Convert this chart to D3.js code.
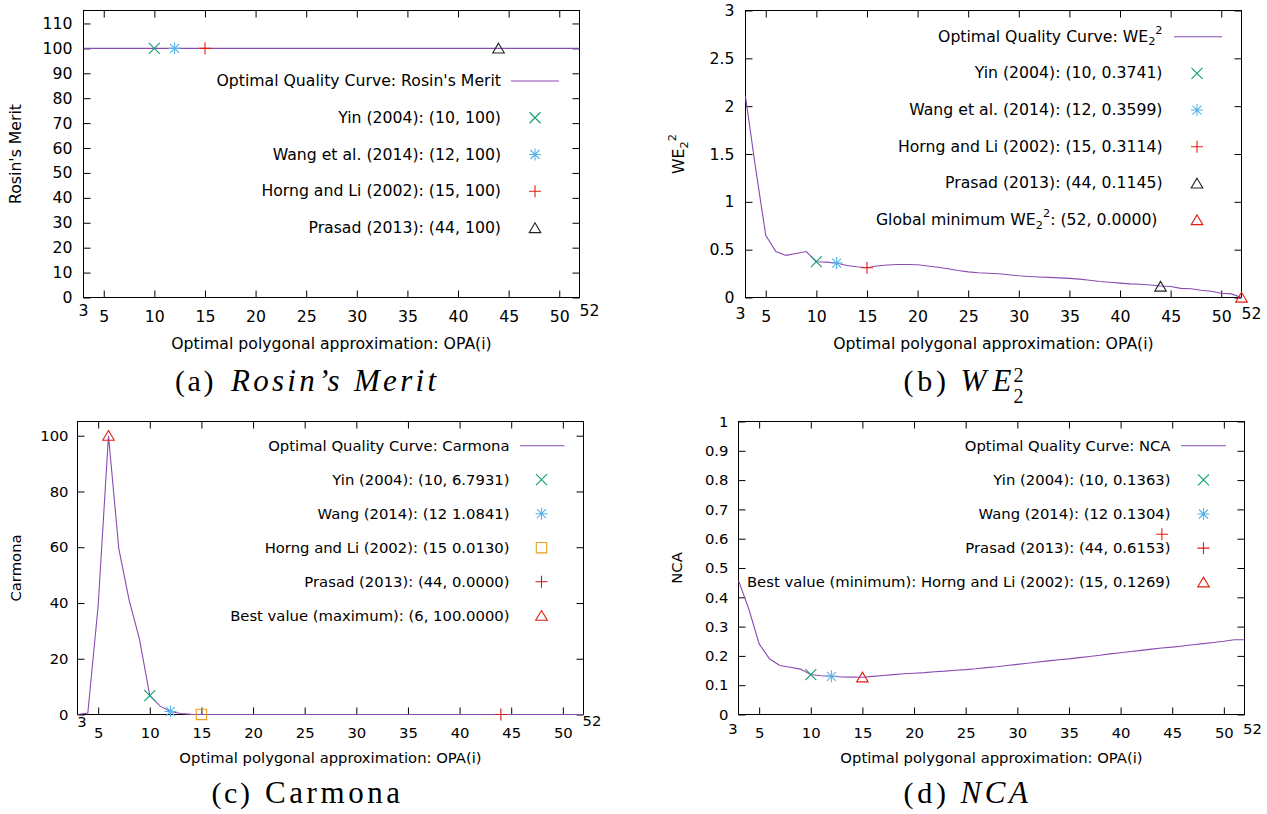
<!DOCTYPE html>
<html><head><meta charset="utf-8">
<script src="https://cdn.jsdelivr.net/npm/d3@7"></script>
<style>
body{margin:0;background:#fff;}
svg{display:block;}
text{font-family:"DejaVu Sans",sans-serif;fill:#000;}
.cap{font-family:"Liberation Serif",serif;}
</style></head><body>
<svg id="c" width="1267" height="814"></svg>
<script>
// ---------------- DATA ----------------
const opaX = [3,4,5,6,7,8,9,10,11,12,13,14,15,16,17,18,19,20,21,22,23,24,25,26,27,28,29,30,31,32,33,34,35,36,37,38,39,40,41,42,43,44,45,46,47,48,49,50,51,52];

const rosinMerit = [100,100,100,100,100,100,100,100,100,100,100,100,100,100,100,100,100,100,100,100,100,100,100,100,100,100,100,100,100,100,100,100,100,100,100,100,100,100,100,100,100,100,100,100,100,100,100,100,100,100];

const we22 = [2.1,1.35,0.65,0.48,0.44,0.46,0.48,0.3741,0.37,0.3599,0.335,0.322,0.3114,0.33,0.34,0.345,0.345,0.342,0.33,0.317,0.30,0.282,0.268,0.258,0.254,0.248,0.238,0.227,0.22,0.215,0.21,0.205,0.2,0.192,0.18,0.167,0.16,0.15,0.142,0.138,0.13,0.12,0.115,0.095,0.091,0.075,0.066,0.045,0.038,0.0];

const carmona = [0,0.5,39,100,59.5,41,27,6.7931,3,1.0841,0.35,0.05,0.013,0,0,0,0,0,0,0,0,0,0,0,0,0,0,0,0,0,0,0,0,0,0,0,0,0,0,0,0,0,0,0,0,0,0,0,0,0];

const nca = [0.457,0.36,0.241,0.19,0.167,0.161,0.155,0.1363,0.132,0.1304,0.128,0.1275,0.1269,0.13,0.133,0.136,0.139,0.141,0.143,0.146,0.148,0.151,0.153,0.156,0.16,0.163,0.167,0.171,0.175,0.179,0.183,0.187,0.19,0.194,0.198,0.202,0.207,0.211,0.215,0.219,0.223,0.227,0.23,0.234,0.238,0.242,0.246,0.25,0.255,0.255];

const xTicks = [5,10,15,20,25,30,35,40,45,50];
const xEdgeTicks = [3,52];

const rosinYTicks = [0,10,20,30,40,50,60,70,80,90,100,110];
const weYTicks = [0,0.5,1,1.5,2,2.5,3];
const weYTickLabels = ["0","0.5","1","1.5","2","2.5","3"];
const carmonaYTicks = [0,20,40,60,80,100];
const ncaYTicks = [0,0.1,0.2,0.3,0.4,0.5,0.6,0.7,0.8,0.9,1];
const ncaYTickLabels = ["0","0.1","0.2","0.3","0.4","0.5","0.6","0.7","0.8","0.9","1"];

const rosinCurveLabel = "Optimal Quality Curve: Rosin's Merit";
const rosinPtLabels = ["Yin (2004): (10, 100)","Wang et al. (2014): (12, 100)","Horng and Li (2002): (15, 100)","Prasad (2013): (44, 100)"];
const rosinPtX = [10,12,15,44];
const rosinPtY = [100,100,100,100];

const weCurveLabel = "Optimal Quality Curve: WE_2^2";
const wePtLabels = ["Yin (2004): (10, 0.3741)","Wang et al. (2014): (12, 0.3599)","Horng and Li (2002): (15, 0.3114)","Prasad (2013): (44, 0.1145)","Global minimum WE_2^2: (52, 0.0000)"];
const wePtX = [10,12,15,44,52];
const wePtY = [0.3741,0.3599,0.3114,0.1145,0.0];

const carmonaCurveLabel = "Optimal Quality Curve: Carmona";
const carmonaPtLabels = ["Yin (2004): (10, 6.7931)","Wang (2014): (12 1.0841)","Horng and Li (2002): (15 0.0130)","Prasad (2013): (44, 0.0000)","Best value (maximum): (6, 100.0000)"];
const carmonaPtX = [10,12,15,44,6];
const carmonaPtY = [6.7931,1.0841,0.013,0.0,100];

const ncaCurveLabel = "Optimal Quality Curve: NCA";
const ncaPtLabels = ["Yin (2004): (10, 0.1363)","Wang (2014): (12 0.1304)","Prasad (2013): (44, 0.6153)","Best value (minimum): Horng and Li (2002): (15, 0.1269)"];
const ncaPtX = [10,12,44,15];
const ncaPtY = [0.1363,0.1304,0.6153,0.1269];

const xLabel = "Optimal polygonal approximation: OPA(i)";

// ---------------- STYLE ----------------
const C = {purple:"#8a4bb0", green:"#0f9e73", blue:"#56b4e9", red:"#e51e10", black:"#222", orange:"#e8a020", darkred:"#c81818"};

function shapePath(t){
  const s = 5.5;
  if (t==="cross") return `M${-s},${-s}L${s},${s}M${-s},${s}L${s},${-s}`;
  if (t==="plus") return `M${-6},0L6,0M0,-6L0,6`;
  if (t==="star") return `M${-6},0L6,0M0,-6L0,6M-4.5,-4.5L4.5,4.5M-4.5,4.5L4.5,-4.5`;
  if (t==="tri") return `M0,-5.2L5.8,4.6L-5.8,4.6Z`;
  if (t==="square") return `M-5.2,-5.2L5.2,-5.2L5.2,5.2L-5.2,5.2Z`;
  return "";
}

function enhanced(sel, str, fs){
  const parts = str.split(/([_^].)/).filter(s => s.length);
  let cur = 0;
  parts.forEach(p => {
    let target = 0, size = fs, content = p;
    if (p.length===2 && p[0]==='_'){ target = fs*0.23; size = fs*0.72; content = p[1]; }
    else if (p.length===2 && p[0]==='^'){ target = -fs*0.5; size = fs*0.72; content = p[1]; }
    sel.append("tspan").attr("dy", target-cur).attr("font-size", size).text(content);
    cur = target;
  });
}

const svg = d3.select("#c");
svg.append("rect").attr("width",1267).attr("height",814).attr("fill","#fff");

function drawPanel(p){
  const FS = p.fs;
  const g = svg.append("g");
  const x = d3.scaleLinear().domain([3,52]).range([p.left,p.right]);
  const y = d3.scaleLinear().domain(p.yDomain).range([p.bottom,p.top]);

  const fmtY = d => p.yLabels ? p.yLabels[p.yTicks.indexOf(d)] : String(d);

  const ax = [
    [d3.axisBottom(x).tickValues(xTicks).tickSizeInner(-7).tickSizeOuter(0).tickPadding(p.xPad).tickFormat(d=>String(d)), p.bottom, 0],
    [d3.axisTop(x).tickValues(xTicks).tickSizeInner(-7).tickSizeOuter(0).tickFormat(""), p.top, 0],
    [d3.axisLeft(y).tickValues(p.yTicks).tickSizeInner(-7).tickSizeOuter(0).tickPadding(p.yPad).tickFormat(fmtY), 0, p.left],
    [d3.axisRight(y).tickValues(p.yTicks).tickSizeInner(-7).tickSizeOuter(0).tickFormat(""), 0, p.right]
  ];
  ax.forEach(([a,ty,tx]) => {
    const gg = g.append("g").attr("transform",`translate(${tx},${ty})`).call(a);
    gg.select(".domain").remove();
    gg.selectAll("text").attr("font-size",FS).attr("font-family","DejaVu Sans");
    gg.selectAll("line").attr("stroke","#000");
  });
  // edge tick labels
  xEdgeTicks.forEach((v,i) => {
    g.append("text").attr("x", x(v)+p.edgeDx[i]).attr("y", p.edgeY[i])
      .attr("text-anchor","middle").attr("font-size",FS).text(String(v));
  });
  // border
  g.append("rect").attr("x",p.left).attr("y",p.top).attr("width",p.right-p.left).attr("height",p.bottom-p.top)
    .attr("fill","none").attr("stroke","#000").attr("stroke-width",1);

  // curve
  const line = d3.line().x((d,i)=>x(opaX[i])).y(d=>y(d));
  g.append("path").datum(p.curve).attr("d",line).attr("fill","none").attr("stroke",C.purple).attr("stroke-width",1.1);

  // points
  p.ptX.forEach((v,i) => {
    g.append("path").attr("d",shapePath(p.shapes[i])).attr("transform",`translate(${x(v)},${y(p.ptY[i])})`)
      .attr("fill","none").attr("stroke",p.colors[i]).attr("stroke-width",1.1);
  });

  // legend
  const L = p.legend;
  const rowY = i => L.y0 + i*L.dy;
  const t0 = g.append("text").attr("x",L.textX).attr("y",rowY(0)+5).attr("text-anchor","end").attr("font-size",FS);
  enhanced(t0, p.curveLabel, FS);
  g.append("line").attr("x1",L.s1).attr("x2",L.s2).attr("y1",rowY(0)).attr("y2",rowY(0)).attr("stroke",C.purple).attr("stroke-width",1.1);
  p.ptLabels.forEach((lab,i) => {
    const t = g.append("text").attr("x",L.textX + ((L.tdx && L.tdx[i]) || 0)).attr("y",rowY(i+1)+5).attr("text-anchor","end").attr("font-size",FS);
    enhanced(t, lab, FS);
    g.append("path").attr("d",shapePath(p.shapes[i])).attr("transform",`translate(${L.mx},${rowY(i+1)})`)
      .attr("fill","none").attr("stroke",p.colors[i]).attr("stroke-width",1.1);
  });

  // axis labels
  g.append("text").attr("x",(p.left+p.right)/2).attr("y",p.xLabelY).attr("text-anchor","middle").attr("font-size",FS).text(xLabel);
  const yl = g.append("text").attr("transform",`translate(${p.yLabelX},${(p.top+p.bottom)/2}) rotate(-90)`)
    .attr("text-anchor","middle").attr("font-size",FS);
  enhanced(yl, p.yTitle, FS);
}

drawPanel({fs:15.7,left:83.5,right:579.5,top:10.5,bottom:297.5,yDomain:[0,115.2],yTicks:rosinYTicks,
  xPad:13.5,yPad:11,edgeDx:[0,10],edgeY:[315.5,315.5],
  curve:rosinMerit,curveLabel:rosinCurveLabel,ptLabels:rosinPtLabels,ptX:rosinPtX,ptY:rosinPtY,
  shapes:["cross","star","plus","tri"],colors:[C.green,C.blue,C.red,C.black],
  legend:{y0:81,dy:36.75,textX:501,s1:511,s2:559,mx:535},
  xLabelY:348.5,yLabelX:21,yTitle:"Rosin's Merit"});

drawPanel({fs:15.7,left:745.5,right:1241.5,top:10.5,bottom:297.5,yDomain:[0,3],yTicks:weYTicks,yLabels:weYTickLabels,
  xPad:13,yPad:11,edgeDx:[-5,10],edgeY:[318.5,318.5],
  curve:we22,curveLabel:weCurveLabel,ptLabels:wePtLabels,ptX:wePtX,ptY:wePtY,
  shapes:["cross","star","plus","tri","tri"],colors:[C.green,C.blue,C.red,C.black,C.red],
  legend:{y0:36.7,dy:36.67,textX:1162.5,s1:1174,s2:1222,mx:1197,tdx:[0,0,0,0,-5]},
  xLabelY:349,yLabelX:684,yTitle:"WE_2^2"});

drawPanel({fs:14.8,left:77.5,right:583.5,top:421.5,bottom:714.5,yDomain:[0,105.1],yTicks:carmonaYTicks,
  xPad:12.5,yPad:9,edgeDx:[4.5,8.5],edgeY:[727,726],
  curve:carmona,curveLabel:carmonaCurveLabel,ptLabels:carmonaPtLabels,ptX:carmonaPtX,ptY:carmonaPtY,
  shapes:["cross","star","square","plus","tri"],colors:[C.green,C.blue,C.orange,C.darkred,C.red],
  legend:{y0:445.7,dy:34,textX:509.5,s1:520,s2:564.5,mx:541.5},
  xLabelY:763,yLabelX:20.5,yTitle:"Carmona"});

drawPanel({fs:14.8,left:738.5,right:1244.5,top:421.5,bottom:714.5,yDomain:[0,1],yTicks:ncaYTicks,yLabels:ncaYTickLabels,
  xPad:12.5,yPad:10,edgeDx:[-5.5,8],edgeY:[734,734],
  curve:nca,curveLabel:ncaCurveLabel,ptLabels:ncaPtLabels,ptX:ncaPtX,ptY:ncaPtY,
  shapes:["cross","star","plus","tri"],colors:[C.green,C.blue,C.red,C.red],
  legend:{y0:445.7,dy:34.15,textX:1170.5,s1:1181,s2:1226,mx:1203.5},
  xLabelY:763,yLabelX:682,yTitle:"NCA"});

// ---------------- CAPTIONS ----------------
function cap(x, yb, str, len, italic, fs){
  svg.append("text").attr("class","cap").attr("x",x).attr("y",yb).attr("font-size",fs||30)
    .attr("font-style",italic?"italic":"normal").attr("textLength",len).attr("lengthAdjust","spacing").text(str);
}
cap(175, 391, "(a)", 38.5, false);
cap(231, 391, "Rosin’s Merit", 205, true, 31);
cap(903.5, 391, "(b)", 42.5, false);
cap(960.5, 391, "WE", 51, true, 31);
cap(1013.5, 382, "2", 12, false, 20);
cap(1013.5, 403, "2", 12, false, 20);
cap(211.5, 803, "(c)", 38.5, false);
cap(265, 803, "Carmona", 135, false, 31);
cap(903.5, 803, "(d)", 42.5, false);
cap(960.5, 803, "NCA", 67.5, true, 31);
</script>
</body></html>
